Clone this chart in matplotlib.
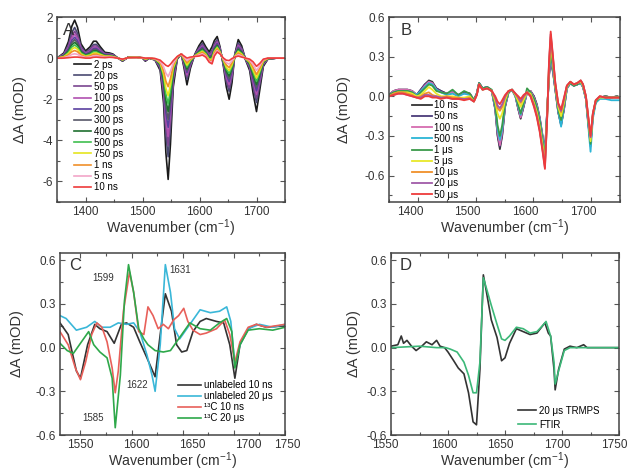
import matplotlib
matplotlib.use("Agg")
import matplotlib.pyplot as plt
from matplotlib.ticker import MultipleLocator, FormatStrFormatter
import matplotlib.transforms as mtrans

plt.rcParams['font.family'] = ['Liberation Sans', 'DejaVu Sans']
plt.rcParams['axes.unicode_minus'] = False
plt.rcParams['mathtext.fontset'] = 'custom'
plt.rcParams['mathtext.rm'] = 'Liberation Sans'

# ---------------- Panel A data ----------------
wn_a = [1350,1362,1370,1376,1381,1386,1392,1400,1408,1414,
        1419,1426,1434,1442,1448,1456,1465,1475,1490,1500,
        1505,1512,1522,1531,1537,1541,1545,1549,1554,1561,
        1568,1573,1578,1584,1592,1599,1605,1611,1617,1622,
        1626,1631,1636,1642,1647,1652,1657,1662,1668,1674,
        1681,1688,1694,1700,1706,1712,1720,1735,1750]
labels_a = ['2 ps','20 ps','50 ps','100 ps','200 ps','300 ps','400 ps',
            '500 ps','750 ps','1 ns','5 ns','10 ns']
colors_a = ['#1a1a1a','#4a4a72','#7a4690','#b050b0','#5a3fa0','#585868',
            '#1f6f2f','#3fbf4f','#e5e51f','#f0902a','#f2a6c8','#ee3b3b']
a_2ps = [0,.25,.80,1.55,1.85,1.50,.70,.35,.55,.82, .82,.55,.28,.25,.20,.02,-.15,.05,.05,0,
         -.15,0,-.10,-.60,-2.20,-4.60,-5.90,-4.20,-1.40,-.05, .20,-.50,-1.30,-.50,.20,.60,.85,.55,.30,.55,
         .85,1.05,.55,-.40,-1.40,-2.00,-1.20,.20,.90,.60, -.10,-.60,-1.70,-2.60,-1.50,-.40,-.05,0,0]
a_20ps = [0,.20,.64,1.25,1.49,1.21,.57,.28,.44,.66, .67,.45,.23,.21,.17,.02,-.13,.04,.05,0,
          -.12,0,-.08,-.50,-1.81,-3.75,-4.80,-3.42,-1.14,-.02, .20,-.38,-1.04,-.39,.18,.50,.71,.45,.20,.38,
          .70,.90,.48,-.32,-1.14,-1.62,-.96,.17,.74,.49, -.08,-.49,-1.40,-2.16,-1.25,-.33,-.04,0,0]
a_50ps = [0,.18,.57,1.10,1.31,1.07,.50,.25,.39,.59, .59,.39,.20,.19,.15,.01,-.12,.04,.04,.01,
          -.11,0,-.08,-.45,-1.62,-3.33,-4.25,-3.03,-1.02,-.01, .20,-.32,-.91,-.34,.16,.45,.64,.40,.15,.30,
          .63,.83,.45,-.28,-1.01,-1.44,-.85,.16,.66,.44, -.07,-.44,-1.24,-1.94,-1.13,-.30,-.04,0,0]
a_100ps = [0,.16,.50,.98,1.17,.95,.45,.22,.34,.52, .53,.35,.18,.17,.14,.01,-.11,.04,.04,.01,
           -.09,0,-.07,-.41,-1.46,-2.99,-3.81,-2.72,-.91,0, .20,-.27,-.81,-.29,.15,.41,.58,.36,.11,.23,
           .57,.77,.42,-.25,-.91,-1.29,-.75,.14,.60,.39, -.06,-.39,-1.12,-1.76,-1.03,-.27,-.03,0,0]
a_200ps = [0,.14,.44,.86,1.02,.83,.39,.19,.30,.46, .47,.31,.16,.15,.12,.01,-.10,.04,.04,.01,
           -.08,0,-.06,-.37,-1.30,-2.65,-3.37,-2.41,-.81,.01, .20,-.22,-.70,-.25,.14,.37,.53,.32,.07,.17,
           .51,.71,.39,-.22,-.80,-1.14,-.66,.13,.53,.35, -.05,-.35,-1.00,-1.59,-.93,-.24,-.03,0,0]
a_300ps = [0,.12,.39,.75,.90,.73,.34,.16,.26,.41, .41,.27,.14,.14,.11,.01,-.10,.03,.04,.01,
           -.07,0,-.06,-.34,-1.17,-2.35,-2.99,-2.13,-.72,.02, .20,-.18,-.61,-.21,.14,.34,.48,.29,.04,.11,
           .45,.65,.36,-.19,-.71,-1.00,-.57,.12,.48,.31, -.05,-.31,-.89,-1.43,-.84,-.21,-.02,0,0]
a_400ps = [0,.10,.33,.64,.77,.63,.30,.14,.22,.35, .36,.24,.12,.12,.10,.01,-.09,.03,.04,.01,
           -.06,0,-.05,-.30,-1.03,-2.05,-2.60,-1.86,-.63,.03, .20,-.14,-.52,-.17,.13,.30,.43,.25,0,.05,
           .40,.60,.34,-.16,-.62,-.87,-.49,.11,.42,.27, -.04,-.27,-.79,-1.28,-.75,-.19,-.02,0,0]
a_500ps = [0,.08,.28,.54,.64,.53,.25,.12,.18,.30, .30,.20,.11,.11,.09,.01,-.08,.03,.04,.01,
           -.05,0,-.05,-.27,-.89,-1.75,-2.22,-1.59,-.54,.04, .20,-.10,-.43,-.13,.12,.27,.38,.22,-.04,-.01,
           .35,.55,.32,-.13,-.53,-.74,-.41,.10,.36,.23, -.03,-.23,-.68,-1.13,-.66,-.17,-.02,0,0]
a_750ps = [0,.07,.22,.43,.52,.43,.20,.09,.14,.24, .25,.17,.09,.09,.07,.01,-.08,.03,.04,.01,
           -.04,0,-.04,-.23,-.76,-1.46,-1.83,-1.31,-.45,.05, .20,-.06,-.34,-.09,.11,.23,.33,.18,-.07,-.06,
           .30,.50,.29,-.10,-.44,-.61,-.33,.09,.31,.19, -.03,-.19,-.58,-.97,-.58,-.14,-.01,0,0]
a_1ns = [0,.05,.16,.31,.37,.31,.15,.06,.10,.18, .19,.12,.07,.08,.06,0,-.07,.03,.03,.02,
         -.03,0,-.03,-.19,-.60,-1.12,-1.39,-1.00,-.35,.06, .20,-.01,-.23,-.05,.10,.19,.28,.14,-.11,-.13,
         .24,.44,.26,-.07,-.33,-.46,-.23,.08,.24,.15, -.02,-.15,-.45,-.80,-.48,-.11,-.01,0,0]
a_5ns = [0,.02,.09,.18,.21,.18,.09,.03,.05,.11, .12,.08,.04,.06,.05,0,-.06,.02,.03,.02,
         -.01,0,-.03,-.15,-.43,-.73,-.90,-.65,-.24,.07, .20,.05,-.12,0,.09,.15,.21,.10,-.16,-.21,
         .17,.37,.23,-.04,-.22,-.29,-.13,.06,.17,.10, -.01,-.10,-.32,-.60,-.36,-.08,0,0,0]
a_10ns = [0,0,.02,.04,.05,.05,.03,0,0,.04, .05,.03,.02,.04,.03,0,-.05,.02,.03,.02,
          0,0,-.02,-.10,-.25,-.35,-.40,-.30,-.12,.08, .20,.10,0,.05,.08,.10,.15,.05,-.20,-.28,
          .10,.30,.20,0,-.10,-.12,-.02,.05,.10,.05, 0,-.05,-.18,-.40,-.25,-.05,0,0,0]
series_a = [a_2ps,a_20ps,a_50ps,a_100ps,a_200ps,a_300ps,a_400ps,a_500ps,a_750ps,a_1ns,a_5ns,a_10ns]

# ---------------- Panel B data ----------------
wn_b = [1350,1358,1366,1374,1382,1390,1398,1405,1412,1419,
        1425,1432,1440,1450,1460,1470,1480,1490,1497,1502,
        1506,1512,1520,1528,1534,1538,1542,1546,1551,1557,
        1563,1569,1574,1578,1583,1589,1595,1601,1606,1611,
        1616,1620,1624,1627,1630,1634,1638,1643,1648,1653,
        1658,1664,1670,1676,1682,1686,1691,1695,1699,1703,
        1708,1715,1725,1735,1745,1750]
labels_b = ['10 ns','50 ns','100 ns','500 ns','1 μs','5 μs','10 μs','20 μs','50 μs']
colors_b = ['#333333','#4b3b7a','#d66cb0','#2bb5d6','#3a9a4a','#e8e82a','#f0902a','#a05aa8','#ee3b3b']
b_10ns = [.01,.04,.05,.05,.05,.04,.01,.05,.09,.12, .11,.06,.04,.02,.03,.01,.03,.02,-.03,.02,
          .10,.06,.07,.04,-.10,-.30,-.40,-.30,-.08,.03, .05,0,-.10,-.17,-.08,.03,.04,0,-.06,-.16,
          -.30,-.42,-.10,.15,.27,.18,.05,-.12,-.22,-.10, .06,.10,.08,.09,.10,.07,-.02,-.20,-.36,-.15,
          -.04,-.01,0,-.01,0,-.01]
b_50ns = [.01,.04,.05,.05,.05,.04,.01,.05,.09,.11, .10,.06,.04,.02,.03,.01,.03,.02,-.03,.02,
          .10,.06,.07,.04,-.10,-.29,-.38,-.29,-.08,.03, .05,0,-.10,-.16,-.08,.03,.04,0,-.07,-.17,
          -.31,-.43,-.10,.16,.28,.19,.05,-.12,-.21,-.10, .06,.10,.08,.09,.10,.07,-.02,-.20,-.37,-.15,
          -.04,-.01,0,-.01,0,-.01]
b_100ns = [.01,.04,.05,.05,.05,.04,.01,.04,.08,.11, .10,.05,.03,.02,.03,.01,.02,.02,-.03,.02,
           .10,.06,.07,.04,-.09,-.27,-.37,-.27,-.07,.03, .05,0,-.09,-.16,-.07,.03,.04,-.01,-.07,-.17,
           -.31,-.43,-.11,.16,.29,.19,.06,-.11,-.21,-.09, .06,.10,.08,.09,.10,.07,-.02,-.20,-.38,-.15,
           -.04,-.01,0,-.01,0,-.01]
b_500ns = [.01,.03,.04,.04,.04,.03,.01,.04,.07,.10, .09,.05,.03,.01,.02,0,.02,.01,-.03,.02,
           .10,.06,.07,.04,-.08,-.25,-.33,-.25,-.06,.03, .05,0,-.08,-.14,-.06,.03,.03,-.02,-.08,-.18,
           -.32,-.45,-.11,.17,.33,.20,.06,-.11,-.23,-.08, .06,.10,.08,.09,.10,.07,-.02,-.22,-.42,-.17,
           -.05,-.02,-.02,-.03,-.03,-.03]
b_1us = [.01,.03,.04,.04,.04,.03,0,.03,.06,.09, .08,.04,.03,.02,.05,.01,.04,.02,-.03,.02,
         .10,.06,.07,.05,-.07,-.22,-.30,-.22,-.05,.03, .05,.01,-.07,-.13,-.05,.06,.03,-.02,-.09,-.19,
         -.34,-.46,-.12,.18,.34,.22,.07,-.10,-.18,-.07, .07,.10,.08,.09,.11,.08,-.01,-.19,-.36,-.14,
         -.04,-.01,0,-.01,0,-.01]
b_5us = [0,.02,.03,.03,.03,.02,0,.01,.04,.07, .05,.02,0,0,0,-.01,-.01,0,-.04,.01,
         .09,.05,.06,.04,-.04,-.13,-.17,-.13,-.03,.04, .05,.01,-.04,-.08,-.03,.03,.02,-.05,-.12,-.23,
         -.37,-.50,-.13,.21,.40,.25,.08,-.08,-.15,-.05, .07,.11,.09,.10,.11,.08,-.01,-.17,-.34,-.14,
         -.03,-.01,-.01,-.01,-.01,-.01]
b_10us = [0,.02,.03,.03,.02,.01,-.01,0,.02,.03, .01,0,-.01,0,-.01,-.01,-.02,-.01,-.04,.01,
          .09,.05,.06,.04,-.02,-.09,-.11,-.08,-.01,.04, .05,.02,-.02,-.05,-.01,.03,.01,-.06,-.14,-.25,
          -.40,-.52,-.14,.23,.45,.28,.09,-.06,-.12,-.03, .08,.11,.09,.10,.12,.09,0,-.16,-.31,-.13,
          -.03,0,-.01,-.01,-.01,-.01]
b_20us = [0,.01,.02,.02,.01,0,-.01,-.01,.01,.01, 0,0,-.01,-.01,-.02,-.02,-.02,-.02,-.04,.01,
          .09,.05,.06,.04,-.01,-.07,-.09,-.06,0,.04, .05,.02,-.01,-.04,0,.03,0,-.07,-.15,-.26,
          -.41,-.54,-.15,.24,.47,.29,.10,-.06,-.11,-.02, .08,.11,.09,.10,.12,.09,0,-.16,-.31,-.13,
          -.03,0,-.01,-.01,-.01,-.01]
b_50us = [0,.01,.02,.02,.01,0,-.01,-.02,0,0, -.01,-.01,-.02,-.01,-.02,-.02,-.03,-.02,-.04,.01,
          .09,.05,.06,.04,0,-.04,-.06,-.03,.01,.04, .05,.02,0,-.02,.01,.03,0,-.08,-.16,-.27,
          -.42,-.55,-.15,.25,.49,.30,.10,-.05,-.10,-.01, .08,.11,.09,.10,.12,.09,0,-.15,-.30,-.13,
          -.03,0,-.01,-.01,-.01,-.01]
series_b = [b_10ns,b_50ns,b_100ns,b_500ns,b_1us,b_5us,b_10us,b_20us,b_50us]

# ---------------- Panel C data ----------------
c_unl10_x = [1530,1538,1546,1550,1557,1564,1569,1576,1583,1590,1595,1602,1608,1615,1623,1628,1633,1639,1644,1649,1654,1660,1667,1673,1683,1690,1696,1701,1706,1714,1722,1732,1750]
c_unl10_y = [0.17,0.09,-0.16,-0.21,0.02,0.16,0.13,0.11,0.03,0.16,0.17,0.14,0.04,-0.07,-0.20,0.09,0.37,0.25,0.02,-0.03,-0.02,0.11,0.18,0.20,0.18,0.17,0.02,-0.21,0.02,0.13,0.16,0.14,0.15]
c_unl20_x = [1530,1536,1546,1556,1564,1571,1579,1587,1595,1602,1608,1615,1620,1623,1628,1633,1638,1642,1647,1654,1660,1667,1677,1686,1693,1697,1701,1706,1714,1725,1738,1750]
c_unl20_y = [0.22,0.20,0.12,0.14,0.18,0.14,0.14,0.17,0.16,0.17,0.11,-0.05,-0.19,-0.30,0.02,0.57,0.38,0.13,0.06,0.13,0.19,0.26,0.24,0.25,0.28,0.18,-0.12,0.02,0.13,0.16,0.14,0.16]
c_13c10_x = [1530,1538,1545,1550,1555,1561,1566,1571,1576,1581,1584,1587,1592,1598,1602,1607,1612,1616,1621,1626,1631,1636,1641,1646,1651,1655,1660,1667,1673,1683,1691,1696,1701,1706,1714,1722,1732,1750]
c_13c10_y = [0.11,0.02,-0.14,-0.22,-0.10,0.09,0.17,0.14,0.04,-0.14,-0.31,-0.16,0.25,0.52,0.38,0.11,0.09,0.28,0.22,0.13,0.16,0.13,0.19,0.22,0.27,0.18,0.12,0.09,0.10,0.13,0.19,0.09,-0.10,0.04,0.14,0.16,0.14,0.16]
c_13c20_x = [1530,1537,1543,1551,1558,1563,1569,1576,1581,1584,1589,1593,1597,1602,1607,1612,1616,1623,1631,1638,1644,1651,1657,1667,1677,1686,1693,1698,1701,1706,1714,1725,1738,1750]
c_13c20_y = [0.03,-0.02,-0.04,0.04,0.11,0.02,-0.03,-0.07,-0.21,-0.55,-0.19,0.32,0.57,0.38,0.13,0.06,0.02,-0.02,-0.03,-0.02,0.04,0.11,0.17,0.13,0.12,0.17,0.20,0.11,-0.14,0.02,0.12,0.13,0.12,0.14]
labels_c = ['unlabeled 10 ns', 'unlabeled 20 μs', '¹³C 10 ns', '¹³C 20 μs']
colors_c = ['#333333', '#3ab7d8', '#e8605a', '#2ea84a']
peak_labels_c = ['1599', '1631', '1622', '1585']
peak_pos_x = [1572, 1647, 1605, 1562]
peak_pos_y = [0.48, 0.53, -0.26, -0.48]

# ---------------- Panel D data ----------------
d_trmps_x = [1550,1556,1559,1561,1564,1568,1572,1577,1581,1586,1590,1593,1597,1600,1605,1609,1614,1618,1622,1625,1628,1631,1634,1638,1643,1647,1650,1654,1660,1666,1672,1678,1682,1685,1688,1690,1693,1694,1697,1702,1707,1713,1719,1722,1730,1749]
d_trmps_y = [0.01,0.02,0.08,0.03,0.05,0.01,-0.02,0.01,0.04,0.02,0.05,0.01,0.00,-0.03,-0.09,-0.14,-0.18,-0.31,-0.51,-0.53,-0.15,0.50,0.37,0.19,0.07,-0.09,-0.07,0.03,0.13,0.11,0.09,0.10,0.14,0.17,0.10,0.08,-0.15,-0.29,-0.15,-0.01,0.01,0.00,0.02,0.00,0.00,0.00]
d_ftir_x = [1550,1575,1590,1598,1602,1608,1614,1618,1622,1625,1628,1631,1634,1638,1643,1647,1650,1654,1660,1666,1672,1678,1684,1686,1690,1693,1694,1697,1702,1707,1749]
d_ftir_y = [0.00,0.01,0.00,0.00,-0.01,-0.03,-0.10,-0.19,-0.31,-0.31,-0.10,0.48,0.40,0.29,0.16,0.06,0.05,0.08,0.14,0.13,0.10,0.11,0.16,0.18,0.08,-0.10,-0.25,-0.16,-0.02,0.00,0.00]
labels_d = ['20 μs TRMPS', 'FTIR']
colors_d = ['#333333', '#3cb878']

# ---------------- figure ----------------
W, H = 632, 471
fig = plt.figure(figsize=(W/100, H/100), dpi=100)
TXT = '#333333'

def ax_px(l, t, r, b):
    return fig.add_axes([l/W, 1-b/H, (r-l)/W, (b-t)/H])

def style(ax, xmaj, xmin, ymaj, ymin, yfmt, ypad):
    ax.xaxis.set_major_locator(MultipleLocator(xmaj))
    ax.xaxis.set_minor_locator(MultipleLocator(xmin))
    ax.yaxis.set_major_locator(MultipleLocator(ymaj))
    ax.yaxis.set_minor_locator(MultipleLocator(ymin))
    ax.yaxis.set_major_formatter(FormatStrFormatter(yfmt))
    ax.tick_params(which='both', direction='in', top=True, right=True,
                   color='#555555', width=0.8, labelsize=8.5, labelcolor=TXT, pad=3)
    ax.tick_params(which='major', length=3.5)
    ax.tick_params(which='minor', length=2)
    for s in ax.spines.values():
        s.set_color('#444444'); s.set_linewidth(1.1)
    ax.set_xlabel('Wavenumber (cm$^{-1}$)', fontsize=10.2, color=TXT, labelpad=-0.5)
    ax.set_ylabel('ΔA (mOD)', fontsize=10.5, color=TXT, labelpad=ypad)

def shift_xlabels(ax, offsets):
    fig.canvas.draw()
    for lab in ax.get_xticklabels():
        t = lab.get_text()
        if t in offsets:
            lab.set_transform(lab.get_transform() +
                              mtrans.ScaledTranslation(offsets[t]/100, 0, fig.dpi_scale_trans))

# Panel A
axA = ax_px(57, 17, 285, 202)
for ys, c, l in zip(series_a, colors_a, labels_a):
    axA.plot(wn_a, ys, color=c, lw=1.2, label=l)
axA.set_xlim(1350, 1750); axA.set_ylim(-7, 2)
style(axA, 100, 50, 2, 1, '%g', 11)
axA.legend(loc='upper left', bbox_to_anchor=(0.075, 0.77), frameon=False, fontsize=7,
           handlelength=1.7, handletextpad=0.3, labelspacing=0.12, borderpad=0, borderaxespad=0)
axA.text(0.025, 0.97, 'A', transform=axA.transAxes, fontsize=12, va='top', color=TXT)

# Panel B
axB = ax_px(389, 17, 620, 202)
for ys, c, l in zip(series_b, colors_b, labels_b):
    axB.plot(wn_b, ys, color=c, lw=1.3, label=l)
axB.set_xlim(1350, 1750); axB.set_ylim(-0.8, 0.6)
style(axB, 100, 50, 0.3, 0.15, '%.1f', 10)
axB.legend(loc='upper left', bbox_to_anchor=(0.10, 0.55), frameon=False, fontsize=7,
           handlelength=2.0, handletextpad=0.3, labelspacing=0.12, borderpad=0, borderaxespad=0)
axB.text(0.05, 0.97, 'B', transform=axB.transAxes, fontsize=12, va='top', color=TXT)

# Panel C
axC = ax_px(60, 253, 285, 435)
for xs, ys, c, l in zip([c_unl10_x, c_unl20_x, c_13c10_x, c_13c20_x],
                        [c_unl10_y, c_unl20_y, c_13c10_y, c_13c20_y], colors_c, labels_c):
    axC.plot(xs, ys, color=c, lw=1.2, label=l)
axC.set_xlim(1530, 1750); axC.set_ylim(-0.6, 0.65)
style(axC, 50, 25, 0.3, 0.15, '%.1f', 8)
for t, px, py in zip(peak_labels_c, peak_pos_x, peak_pos_y):
    axC.text(px, py, t, fontsize=7, ha='center', va='center', color=TXT)
axC.legend(loc='lower right', bbox_to_anchor=(0.945, 0.065), frameon=False, fontsize=7,
           handlelength=2.4, handletextpad=0.3, labelspacing=0.1, borderpad=0, borderaxespad=0)
axC.text(0.04, 0.97, 'C', transform=axC.transAxes, fontsize=12, va='top', color=TXT)

# Panel D
axD = ax_px(391, 253, 619, 435)
for xs, ys, c, l in zip([d_trmps_x, d_ftir_x], [d_trmps_y, d_ftir_y], colors_d, labels_d):
    axD.plot(xs, ys, color=c, lw=1.2, label=l)
axD.set_xlim(1550, 1750); axD.set_ylim(-0.6, 0.65)
style(axD, 50, 25, 0.3, 0.15, '%.1f', 4)
axD.legend(loc='lower right', bbox_to_anchor=(0.915, 0.03), frameon=False, fontsize=7,
           handlelength=1.9, handletextpad=0.3, labelspacing=0.4, borderpad=0, borderaxespad=0)
axD.text(0.04, 0.97, 'D', transform=axD.transAxes, fontsize=12, va='top', color=TXT)

shift_xlabels(axB, {'1400': -8, '1500': -8, '1600': -8, '1700': -8})
shift_xlabels(axC, {'1600': 5, '1650': 10, '1700': 14, '1750': 2})
shift_xlabels(axD, {'1550': -6, '1600': -4, '1650': -5, '1700': -5, '1750': -5})

fig.savefig('out.png', dpi=100)
